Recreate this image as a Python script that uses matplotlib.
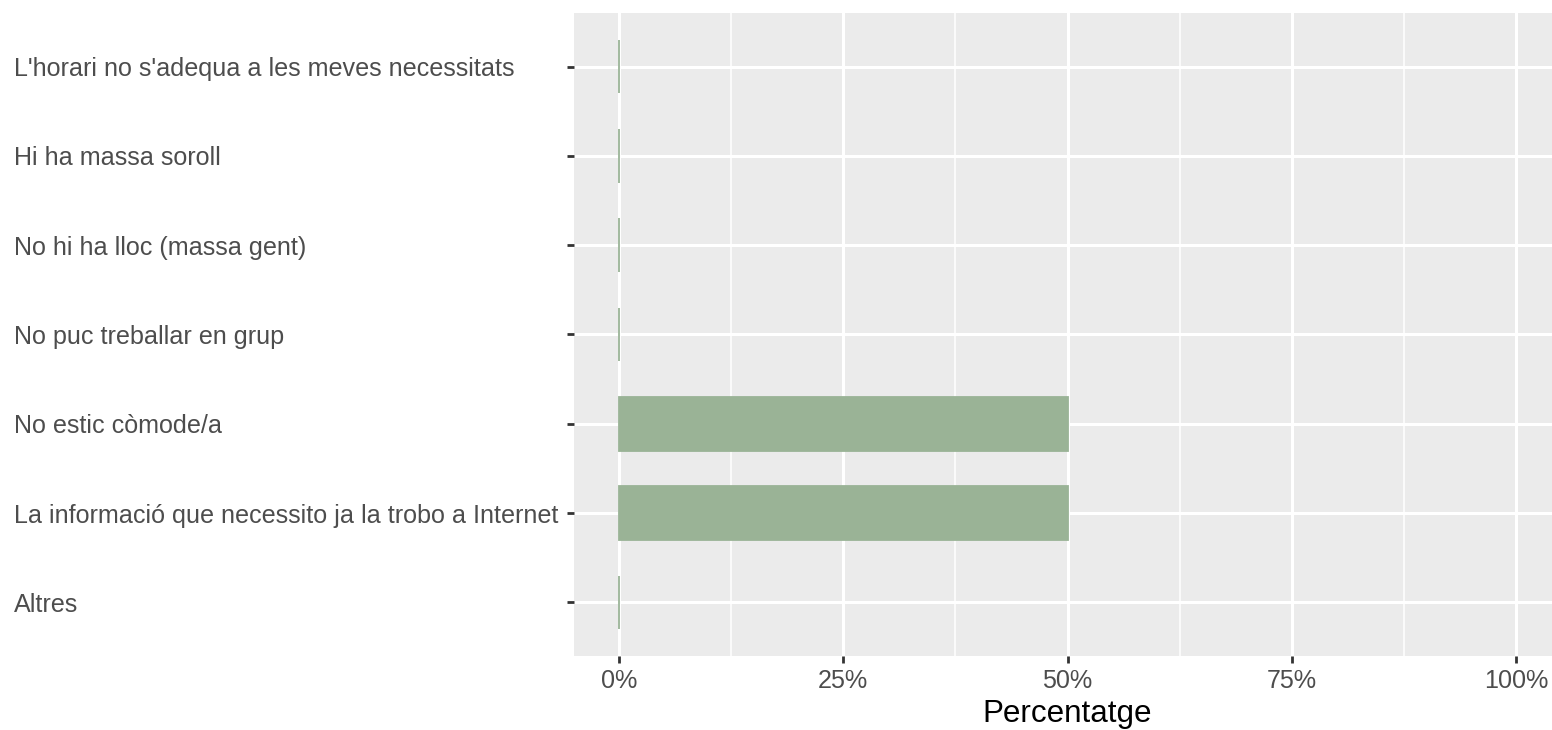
import matplotlib
matplotlib.use("Agg")
import matplotlib.pyplot as plt
from matplotlib.ticker import FixedLocator, PercentFormatter

# categories from top to bottom, as in the chart
categories = [
    "L'horari no s'adequa a les meves necessitats",
    "Hi ha massa soroll",
    "No hi ha lloc (massa gent)",
    "No puc treballar en grup",
    "No estic còmode/a",
    "La informació que necessito ja la trobo a Internet",
    "Altres",
]
values = [0.0, 0.0, 0.0, 0.0, 0.5, 0.5, 0.0]
major_ticks = [0, 0.25, 0.5, 0.75, 1.0]
minor_ticks = [0.125, 0.375, 0.625, 0.875]

plt.rcParams['font.family'] = ['Liberation Sans', 'DejaVu Sans']

W, H = 1552, 730
fig = plt.figure(figsize=(W / 100, H / 100), dpi=100)
# panel spans past the right edge, like the cropped original
ax = fig.add_axes([574 / W, 1 - 656 / H, (1561 - 574) / W, (656 - 13) / H])
ax.set_facecolor("#EBEBEB")
for s in ax.spines.values():
    s.set_visible(False)

ypos = list(range(len(categories)))[::-1]
ax.barh(ypos, values, height=0.6, color="#9AB396", edgecolor="#9AB396",
        linewidth=1.3, zorder=3)

ax.set_xlim(-0.05, 1.05)
ax.set_ylim(-0.6, len(categories) - 0.4)

ax.xaxis.set_major_locator(FixedLocator(major_ticks))
ax.xaxis.set_minor_locator(FixedLocator(minor_ticks))
ax.xaxis.set_major_formatter(PercentFormatter(1.0, decimals=0))
ax.set_yticks(ypos)
ax.set_yticklabels(categories)

ax.grid(which="major", color="white", linewidth=2.2, zorder=1)
ax.grid(which="minor", axis="x", color="white", linewidth=1.1, zorder=1)
ax.set_axisbelow(True)

ax.tick_params(axis="x", which="major", length=5, width=2, color="#333333",
               labelsize=18.1, labelcolor="#4D4D4D", pad=4.5)
ax.tick_params(axis="x", which="minor", length=0)
# y labels left-aligned at the figure's left edge
ax.tick_params(axis="y", length=5, width=2, color="#333333",
               labelsize=18.1, labelcolor="#4D4D4D", pad=(567 - 14) * 0.72)
for lab in ax.get_yticklabels():
    lab.set_horizontalalignment("left")

ax.set_xlabel("Percentatge", fontsize=22.6, color="black", labelpad=4)

fig.savefig("out.png", dpi=100)
